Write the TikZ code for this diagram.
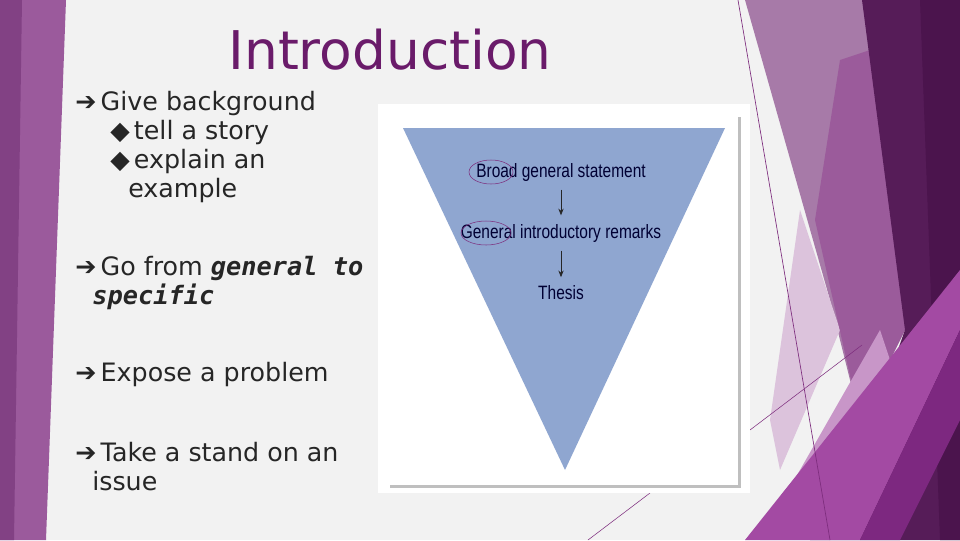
\documentclass[tikz,border=0pt]{standalone}
\usepackage{fontspec}
\usetikzlibrary{arrows.meta}
\setmainfont{DejaVu Sans}
\newfontfamily\slidefont{DejaVu Sans}
\newfontfamily\figfont{Liberation Sans}
\newfontfamily\monob{DejaVu Sans Mono}
\definecolor{lineP}{RGB}{125,45,125}
\begin{document}
\begin{tikzpicture}[x=0.75pt,y=-0.75pt,
  body/.style={anchor=west,font=\slidefont\fontsize{19}{22}\selectfont,text=black!85,inner sep=0},
  fig/.style={font=\figfont\fontsize{14.5}{16}\selectfont,text=black!80!blue,xscale=0.8},
  darr/.style={-{Stealth[length=5pt,width=4pt]},semithick,black!85,shorten <=3pt,shorten >=3pt}]
\useasboundingbox (0,0) rectangle (960,540);
\fill[gray!10] (0,0) rectangle (960,540);
% left strip
\fill[fill={rgb,255:red,155;green,90;blue,156}] (0,0) -- (66,0) -- (46,540) -- (0,540) -- cycle;
\fill[fill={rgb,255:red,130;green,65;blue,132}] (0,0) -- (22,0) -- (14,540) -- (0,540) -- cycle;
% right decoration
\fill[fill={rgb,255:red,167;green,122;blue,168}] (745,0) -- (865,0) -- (905,330) -- (860,420) -- (830,300) -- cycle;
\fill[fill={rgb,255:red,220;green,195;blue,220}] (800,210) -- (840,330) -- (780,470) -- (770,420) -- cycle;
\fill[fill={rgb,255:red,155;green,91;blue,155}] (840,60) -- (900,40) -- (905,330) -- (860,420) -- (815,220) -- cycle;
\fill[fill={rgb,255:red,86;green,28;blue,88}] (862,0) -- (960,0) -- (960,540) -- (810,540) -- (880,400) -- (905,330) -- cycle;
\fill[fill={rgb,255:red,75;green,20;blue,77}] (920,0) -- (960,0) -- (960,540) -- (940,540) -- cycle;
\fill[fill={rgb,255:red,200;green,150;blue,200}] (760,540) -- (880,330) -- (900,390) -- (830,540) -- cycle;
\fill[fill={rgb,255:red,163;green,74;blue,163}] (745,540) -- (960,270) -- (960,330) -- (860,540) -- cycle;
\fill[fill={rgb,255:red,125;green,40;blue,128}] (860,540) -- (960,330) -- (960,420) -- (900,540) -- cycle;
\draw[lineP, line width=0.5pt] (738,0) -- (830,540);
\draw[lineP, line width=0.4pt] (750,430) -- (862,345);
\draw[lineP, line width=0.4pt] (588,540) -- (650,493);
% title
\node[font=\slidefont\fontsize{40}{44}\selectfont, text={rgb,255:red,106;green,27;blue,106}] (title) at (390,50) {Introduction};
% bullets
\node[body] (b1) at (75,104) {➔\,Give background};
\node[body] (b1a) at (110,133) {◆\,tell a story};
\node[body] (b1b) at (110,162) {◆\,explain an};
\node[body] (b1c) at (128,191) {example};
\node[body] (b2) at (75,268) {➔\,Go from \textit{\monob\bfseries general to}};
\node[body] (b2b) at (92,297) {\textit{\monob\bfseries specific}};
\node[body] (b3) at (75,375) {➔\,Expose a problem};
\node[body] (b4) at (75,452) {➔\,Take a stand on an};
\node[body] (b4b) at (92,481) {issue};
% figure
\fill[white] (378,104) rectangle (750,493);
\fill[black!25] (390,117) rectangle (741,488);
\fill[white] (388,115) rectangle (738,485);
\fill[fill={rgb,255:red,143;green,166;blue,208}] (403,128) -- (725,128) -- (565,470) -- cycle;
\node[fig] (s1) at (561,172) {Broad general statement};
\node[fig] (s2) at (561,233) {General introductory remarks};
\node[fig] (s3) at (561,293) {Thesis};
\draw[darr] (s1.south) -- (s2.north);
\draw[darr] (s2.south) -- (s3.north);
\draw[lineP,line width=0.4pt] (491,172) ellipse (22 and 12);
\draw[lineP,line width=0.4pt] (486,233) ellipse (25 and 12);
\end{tikzpicture}
\end{document}
